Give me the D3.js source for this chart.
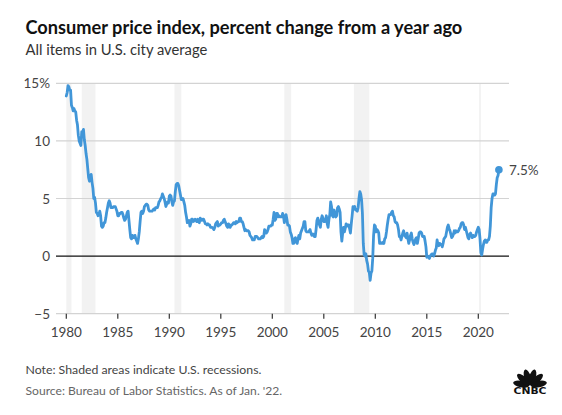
<!DOCTYPE html>
<html><head><meta charset="utf-8">
<script src="https://cdn.jsdelivr.net/npm/d3@7"></script>
<style>body{margin:0;background:#fff}svg{display:block}</style>
</head><body>
<svg id="c" width="562" height="415"></svg>
<script>
// ---- data ----
const startYear = 1980;
const cpiValues = [
13.9,14.2,14.8,14.7,14.4,14.4,13.1,12.9,12.6,12.8,12.6,12.5,
11.8,11.4,10.5,10.0,9.8,9.6,10.8,10.8,11.0,10.1,9.6,8.9,
8.4,7.6,6.8,6.5,6.7,7.1,6.4,5.9,5.0,5.1,4.6,3.8,
3.7,3.5,3.6,3.9,3.5,2.6,2.5,2.6,2.9,2.9,3.3,3.8,
4.2,4.6,4.8,4.6,4.2,4.2,4.2,4.3,4.3,4.3,4.1,3.9,
3.5,3.5,3.7,3.7,3.8,3.8,3.6,3.3,3.1,3.2,3.5,3.8,
3.9,3.1,2.3,1.6,1.5,1.8,1.6,1.6,1.8,1.5,1.3,1.1,
1.5,2.1,3.0,3.8,3.9,3.7,3.9,4.3,4.4,4.5,4.5,4.4,
4.0,3.9,3.9,3.9,3.9,4.0,4.1,4.0,4.2,4.2,4.2,4.4,
4.7,4.8,5.0,5.1,5.4,5.2,5.0,4.7,4.3,4.5,4.7,4.6,
5.2,5.3,5.2,4.7,4.4,4.7,4.8,5.6,6.2,6.3,6.3,6.1,
5.7,5.3,4.9,4.9,5.0,4.7,4.4,3.8,3.4,2.9,3.0,3.1,
2.6,2.8,3.2,3.2,3.0,3.1,3.2,3.1,3.0,3.2,3.0,2.9,
3.3,3.2,3.1,3.2,3.2,3.0,2.8,2.8,2.7,2.8,2.7,2.7,
2.5,2.5,2.5,2.4,2.3,2.5,2.8,2.9,3.0,2.6,2.7,2.7,
2.8,2.9,2.9,3.1,3.2,3.0,2.8,2.6,2.5,2.8,2.6,2.5,
2.7,2.7,2.8,2.9,2.9,2.8,3.0,2.9,3.0,3.0,3.3,3.3,
3.0,3.0,2.8,2.5,2.2,2.3,2.2,2.2,2.2,2.1,1.8,1.7,
1.6,1.4,1.4,1.4,1.7,1.7,1.7,1.6,1.5,1.5,1.5,1.6,
1.7,1.6,1.7,2.3,2.1,2.0,2.1,2.3,2.6,2.6,2.6,2.7,
2.7,3.2,3.8,3.1,3.2,3.7,3.7,3.4,3.5,3.4,3.4,3.4,
3.7,3.5,2.9,3.3,3.6,3.2,2.7,2.7,2.6,2.1,1.9,1.6,
1.1,1.1,1.5,1.6,1.2,1.1,1.5,1.8,1.5,2.0,2.2,2.4,
2.6,3.0,3.0,2.2,2.1,2.1,2.1,2.2,2.3,2.0,1.8,1.9,
1.9,1.7,1.7,2.3,3.1,3.3,3.0,2.7,2.5,3.2,3.5,3.3,
3.0,3.0,3.1,3.5,2.8,2.5,3.2,3.6,4.7,4.3,3.5,3.4,
4.0,3.6,3.4,3.5,4.2,4.3,4.1,3.8,2.1,1.3,2.0,2.5,
2.1,2.4,2.8,2.6,2.7,2.7,2.4,2.0,2.8,3.5,4.3,4.1,
4.3,4.0,4.0,3.9,4.2,5.0,5.6,5.4,4.9,3.7,1.1,0.1,
0.0,0.2,-0.4,-0.7,-1.3,-1.4,-2.1,-1.5,-1.3,-0.2,1.8,2.7,
2.6,2.1,2.3,2.2,2.0,1.1,1.2,1.1,1.1,1.2,1.1,1.5,
1.6,2.1,2.7,3.2,3.6,3.6,3.6,3.8,3.9,3.5,3.4,3.0,
2.9,2.9,2.7,2.3,1.7,1.7,1.4,1.7,2.0,2.2,1.8,1.7,
1.6,2.0,1.5,1.1,1.4,1.8,2.0,1.5,1.2,1.0,1.2,1.5,
1.6,1.1,1.5,2.0,2.1,2.1,2.0,1.7,1.7,1.7,1.3,0.8,
-0.1,0.0,-0.1,-0.2,0.0,0.1,0.2,0.2,0.0,0.2,0.5,0.7,
1.4,1.0,0.9,1.1,1.0,1.0,0.8,1.1,1.5,1.6,1.7,2.1,
2.5,2.7,2.4,2.2,1.9,1.6,1.7,1.9,2.2,2.0,2.2,2.1,
2.1,2.2,2.4,2.5,2.8,2.9,2.9,2.7,2.3,2.5,2.2,1.9,
1.6,1.5,1.9,2.0,1.8,1.6,1.8,1.7,1.7,1.8,2.1,2.3,
2.5,2.3,1.5,0.3,0.1,0.6,1.0,1.3,1.4,1.2,1.2,1.4,
1.4,1.7,2.6,4.2,5.0,5.4,5.4,5.3,5.4,6.2,6.8,7.0,
7.5
];
const recessionStart = [1980.0, 1981.5, 1990.5, 2001.17, 2007.92, 2020.08];
const recessionEnd   = [1980.5, 1982.83, 1991.17, 2001.83, 2009.42, 2020.25];
const xTicks = [1980,1985,1990,1995,2000,2005,2010,2015,2020];
const yTicks = [-5,0,5,10,15];
const yTickLabels = ["\u22125","0","5","10","15%"];
const endLabel = "7.5%";

// ---- layout ----
const svg = d3.select("#c");
const FONT = "Lato, 'Open Sans', sans-serif";
const left = 56, right = 509;
const x = d3.scaleLinear().domain([1980, 2022]).range([66.3, 498.9]);
const y = d3.scaleLinear().domain([-5, 15]).range([313.7, 83.3]);

function fitText(sel, target) {
  const w = sel.node().getComputedTextLength();
  const fs = parseFloat(sel.attr("font-size"));
  sel.attr("font-size", (fs * target / w).toFixed(2));
}

// title
fitText(svg.append("text").attr("x", 25.5).attr("y", 33.5).attr("font-family", FONT)
  .attr("font-weight", 700).attr("font-size", 18).attr("fill", "#111")
  .text("Consumer price index, percent change from a year ago"), 437);
fitText(svg.append("text").attr("x", 25.5).attr("y", 55).attr("font-family", FONT)
  .attr("font-size", 14).attr("fill", "#333")
  .text("All items in U.S. city average"), 182);

// recessions
svg.append("g").selectAll("rect").data(recessionStart).join("rect")
  .attr("x", (d) => x(d))
  .attr("width", (d, i) => Math.max(1.5, x(recessionEnd[i]) - x(d)))
  .attr("y", y(15)).attr("height", y(-5) - y(15))
  .attr("fill", "#f2f2f2");

// gridlines
svg.append("g").selectAll("line").data(yTicks.filter(d => d !== 0)).join("line")
  .attr("x1", left).attr("x2", right)
  .attr("y1", d => y(d)).attr("y2", d => y(d))
  .attr("stroke", "#d3d3d3").attr("stroke-width", 1.2);

// y labels
svg.append("g").selectAll("text").data(yTicks).join("text")
  .attr("x", 50).attr("y", d => y(d) + 5)
  .attr("text-anchor", "end").attr("font-family", FONT).attr("font-size", 13.5)
  .attr("fill", "#444").text((d, i) => yTickLabels[i]);

// x axis ticks
const xg = svg.append("g").attr("transform", `translate(0,${y(-5)})`);
xg.selectAll("line").data(xTicks).join("line")
  .attr("x1", d => x(d)).attr("x2", d => x(d)).attr("y1", 0).attr("y2", 5)
  .attr("stroke", "#333").attr("stroke-width", 1.2);
xg.selectAll("text").data(xTicks).join("text")
  .attr("x", d => x(d)).attr("y", 23).attr("text-anchor", "middle")
  .attr("font-family", FONT).attr("font-size", 13.5).attr("fill", "#444").text(d => d);

// zero line
svg.append("line").attr("x1", left).attr("x2", right).attr("y1", y(0)).attr("y2", y(0))
  .attr("stroke", "#111").attr("stroke-width", 1.4);

// data line
const pts = cpiValues.map((v, i) => [startYear + i / 12, v]);
svg.append("path").datum(pts)
  .attr("d", d3.line().x(d => x(d[0])).y(d => y(d[1])))
  .attr("fill", "none").attr("stroke", "#4196d8").attr("stroke-width", 2.8)
  .attr("stroke-linejoin", "round").attr("stroke-linecap", "round");

const last = pts[pts.length - 1];
svg.append("circle").attr("cx", x(last[0])).attr("cy", y(last[1])).attr("r", 3.8).attr("fill", "#4196d8");
svg.append("text").attr("x", x(last[0]) + 10).attr("y", y(last[1]) + 5)
  .attr("font-family", FONT).attr("font-size", 13.5).attr("fill", "#444").text(endLabel);

// notes
fitText(svg.append("text").attr("x", 25.5).attr("y", 374).attr("font-family", FONT)
  .attr("font-size", 13).attr("fill", "#444")
  .text("Note: Shaded areas indicate U.S. recessions."), 236);
fitText(svg.append("text").attr("x", 25.5).attr("y", 395).attr("font-family", FONT)
  .attr("font-size", 13).attr("fill", "#666")
  .text("Source: Bureau of Labor Statistics. As of Jan. '22."), 257);

// CNBC logo
const logo = svg.append("g").attr("transform", "translate(530,386)");
const angles = [-78, -47, -16, 16, 47, 78];
logo.selectAll("ellipse").data(angles).join("ellipse")
  .attr("cx", 0).attr("cy", -9).attr("rx", 3.3).attr("ry", 8.2)
  .attr("transform", d => `rotate(${d})`).attr("fill", "#111");
logo.append("text").attr("x", 0).attr("y", 7.5).attr("text-anchor", "middle")
  .attr("font-family", "'DejaVu Sans', sans-serif").attr("font-weight", 700)
  .attr("font-size", 8).attr("fill", "#111").attr("textLength", 33).attr("lengthAdjust", "spacingAndGlyphs")
  .text("CNBC");
</script>
</body></html>
